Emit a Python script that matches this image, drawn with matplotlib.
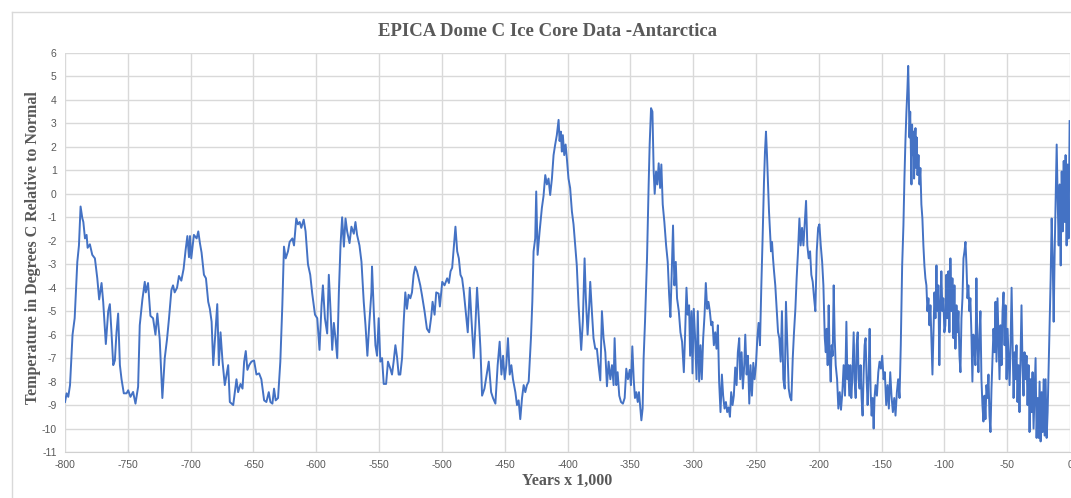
import matplotlib
matplotlib.use("Agg")
from matplotlib import pyplot as plt
from matplotlib.lines import Line2D
import numpy as np

plt.rcParams['axes.unicode_minus'] = False

# years (x 1,000) and temperature anomaly
years = [
    -800, -798.7, -797.4, -796, -794, -792.3, -790.2, -788.9, -787.6, -786.2, -785.4, -784.1,
    -782.8, -782, -780.2, -778.3, -776.2, -774.3, -772.8, -770.9, -769.6, -767.5, -765.6, -764.3,
    -763, -761.6, -760.3, -759, -757.7, -756.3, -755, -753.2, -751, -749.7, -747.9, -745.8,
    -743.9, -741.8, -740.5, -738.4, -736.5, -735.7, -733.9, -732, -729.9, -728, -726.5, -724.6,
    -722.5, -720.6, -718.8, -717.2, -715.3, -714, -712.7, -710.8, -709.3, -707.4, -705.6, -704,
    -702.6, -701.3, -700.5, -699.5, -697.4, -695.2, -693.9, -692.6, -691.3, -689.4, -687.8, -686,
    -684.7, -683.3, -682, -680.4, -678.8, -677.5, -676.2, -674.6, -672.8, -671.4, -670.1, -668.8,
    -666.1, -663.5, -662.2, -660.3, -658.7, -657.4, -656.1, -654.8, -653.4, -651.6, -649.5, -647.6,
    -645.5, -643.7, -641.5, -639.7, -637.8, -636.5, -634.9, -633.6, -632.3, -630.4, -628.6, -627,
    -625.7, -624.3, -622.5, -621.2, -619, -617.7, -615.9, -614.6, -613.2, -611.9, -610, -608.5,
    -606.6, -604.8, -603.2, -601, -599.2, -597.4, -595.8, -594.7, -593.1, -591.3, -590, -588.6,
    -587.3, -586, -584.7, -583.3, -582, -580.7, -579.4, -578, -576.7, -575.4, -573.5, -572,
    -570.1, -568.8, -567.5, -565.6, -564, -562.2, -560.8, -559.3, -557.7, -556.1, -555.6, -554.2,
    -552.9, -551.6, -550.3, -549, -547.6, -546.3, -544.4, -542.9, -541, -539.7, -538.4, -537,
    -535.7, -534.4, -533.1, -531.7, -530.4, -529.1, -527.8, -526.5, -525.1, -523.8, -522.5, -521.2,
    -519.8, -518.5, -517.2, -515.9, -513.8, -511.9, -510.1, -508.5, -507.4, -505.8, -504.5, -502.6,
    -501.6, -499.7, -497.9, -495.8, -494.4, -493.1, -491.8, -490.5, -489.2, -487.8, -486.5, -485.2,
    -483.9, -482.5, -481.2, -479.4, -477.8, -476.5, -474.6, -473.3, -472, -470.6, -469.3, -468,
    -466.1, -464, -462.7, -460.8, -459.3, -457.4, -455.6, -454, -452.6, -451.3, -450, -448.7,
    -447.4, -446, -444.7, -443.4, -441.5, -440.2, -438.9, -437.6, -436.2, -434.9, -433.6, -432.3,
    -430.9, -429.1, -428, -427, -425.7, -424.9, -423.8, -422.2, -420.4, -419.1, -417.7, -416.4,
    -415.1, -413.8, -412.4, -411.1, -409.8, -408.5, -407.1, -406.3, -405.3, -404.5, -403.7, -402.6,
    -401.5, -400.5, -399.2, -397.9, -396.5, -395.2, -393.9, -392.6, -391.2, -389.9, -389.1, -387.8,
    -386.4, -385.4, -384, -382.7, -381.9, -380.6, -379.3, -377.9, -376.6, -375.3, -373.9, -372.6,
    -371.3, -369.9, -368.6, -367.3, -365.9, -364.6, -363.3, -362.5, -361.2, -360.1, -358.8, -357.4,
    -355.9, -354.5, -353.2, -351.9, -350.5, -349.5, -348.4, -347.3, -346.3, -345.2, -344.1, -343.1,
    -342, -341.2, -340.2, -339.4, -338.3, -336.7, -335.4, -334.6, -333.5, -332.4, -331.4, -330.6,
    -329.5, -328.5, -327.4, -326.3, -325.3, -324.2, -322.9, -321.5, -320.2, -319.1, -318.1, -317,
    -316, -314.9, -313.8, -312.8, -311.4, -310.1, -308.8, -307.4, -306.4, -305.3, -304.3, -303.2,
    -302.4, -301.3, -300.5, -299.5, -298.4, -297.3, -296.3, -295.2, -294.1, -293.1, -292, -290.9,
    -289.9, -288.8, -287.8, -286.7, -285.6, -284.6, -283.5, -282.4, -281.4, -280.3, -279.3, -278.2,
    -277.1, -276.1, -275, -273.9, -272.9, -271.8, -270.7, -269.7, -268.6, -267.6, -266.5, -265.4,
    -264.4, -263.3, -262.5, -261.4, -260.4, -259.3, -258.5, -257.4, -256.4, -255.3, -254.3, -253.2,
    -252.1, -251.1, -250, -248.9, -247.9, -246.8, -245.7, -244.7, -243.6, -242.8, -242, -241.2,
    -240.4, -239.6, -238.8, -238, -237.2, -236.4, -235.6, -234.6, -233.5, -232.4, -231.4, -230.3,
    -229.3, -228.2, -227.1, -226.1, -225, -223.9, -222.9, -221.8, -220.7, -219.7, -218.6, -217.6,
    -216.5, -215.4, -214.4, -213.3, -212.2, -211.2, -210.1, -209.1, -208, -206.9, -205.9, -204.8,
    -203.7, -202.7, -201.6, -200.5, -199.5, -198.4, -197.3, -196.3, -195.2, -194.4, -193.7, -192.9,
    -192.1, -191.3, -190.5, -189.7, -188.9, -188.1, -187.3, -186.5, -185.4, -184.4, -183.3, -182.3,
    -181.2, -180.2, -179.1, -178, -177.2, -176.5, -175.7, -174.9, -174.1, -173.3, -172.2, -171.4,
    -170.6, -169.8, -169, -168.3, -167.5, -166.7, -165.9, -165.1, -164.3, -163.5, -162.7, -161.9,
    -161.1, -160.3, -159.5, -158.7, -157.9, -157.1, -156.3, -155.6, -154.8, -153.7, -152.6, -151.6,
    -150.5, -149.5, -148.4, -147.4, -146.3, -145.2, -144.2, -143.1, -142.1, -141, -139.9, -138.9,
    -137.8, -136.8, -135.7, -134.7, -133.6, -132.6, -131.8, -131, -130.2, -129.4, -128.8, -128.3,
    -127.8, -127.2, -126.7, -126.2, -125.7, -125.1, -124.6, -124.1, -123.5, -123, -122.5, -122,
    -121.4, -120.6, -119.8, -119.1, -118.3, -117.5, -116.7, -115.9, -115.1, -114.3, -113.5, -112.7,
    -111.9, -111.1, -110.3, -109.5, -108.7, -107.9, -107.1, -106.3, -105.6, -104.8, -104, -103.2,
    -102.4, -101.6, -100.8, -100, -99.2, -98.4, -97.6, -96.8, -96, -95.2, -94.4, -93.6,
    -92.8, -92, -91.2, -90.4, -89.6, -88.8, -88, -87.2, -86.4, -85.6, -84.8, -84,
    -83.2, -82.4, -81.6, -80.9, -80.1, -79.3, -78.5, -77.7, -76.9, -76.1, -75.3, -74.5,
    -73.7, -72.9, -72.1, -71.3, -70.5, -69.7, -68.9, -68.1, -67.3, -66.5, -65.7, -64.9,
    -64.1, -63.3, -62.5, -61.7, -60.9, -60.1, -59.3, -58.5, -57.7, -56.9, -56.1, -55.3,
    -54.5, -53.7, -52.9, -52.1, -51.3, -50.5, -49.7, -48.9, -48.1, -47.3, -46.5, -45.7,
    -44.9, -44.1, -43.4, -42.6, -41.8, -41, -40.2, -39.4, -38.6, -37.8, -37, -36.2,
    -35.4, -34.6, -33.8, -33, -32.2, -31.4, -30.6, -29.8, -29, -28.2, -27.4, -26.6,
    -25.8, -25, -24.2, -23.4, -22.6, -21.8, -21, -20.2, -19.4, -18.6, -17.8, -17,
    -16.2, -15.4, -14.6, -13.8, -13, -12.2, -11.4, -10.6, -9.8, -9, -8.2, -7.4,
    -6.6, -5.8, -5, -4.3, -3.5, -2.7, -1.9, -1.1, -0.3,
]
temps = [
    -8.87, -8.5, -8.65, -8.15, -6.0, -5.3, -2.9, -2.2, -0.54, -1.04, -1.2, -1.9,
    -1.75, -2.3, -2.15, -2.6, -2.75, -3.6, -4.5, -3.8, -4.6, -6.4, -5.0, -4.7,
    -5.9, -7.3, -7.1, -5.9, -5.1, -7.3, -7.9, -8.5, -8.5, -8.37, -8.65, -8.44,
    -8.94, -8.22, -5.6, -4.5, -3.75, -4.2, -3.8, -5.2, -5.3, -6.0, -5.1, -6.2,
    -8.7, -7.0, -6.2, -5.3, -4.1, -3.9, -4.2, -4.0, -3.5, -3.7, -3.2, -2.4,
    -1.8, -2.7, -1.8, -2.75, -1.75, -1.9, -1.6, -2.1, -2.5, -3.45, -3.6, -4.6,
    -4.9, -5.45, -7.3, -6.0, -4.7, -7.3, -5.9, -7.15, -8.15, -7.7, -7.3, -8.87,
    -9.0, -7.9, -8.45, -8.1, -8.3, -7.15, -6.7, -7.5, -7.3, -7.15, -7.1, -7.7,
    -7.65, -7.9, -8.8, -8.87, -8.45, -8.87, -8.94, -8.3, -8.8, -8.7, -7.15, -4.75,
    -2.25, -2.75, -2.45, -2.05, -1.9, -2.2, -1.05, -1.3, -1.2, -1.45, -1.1, -1.6,
    -3.0, -3.45, -4.25, -5.15, -5.3, -6.65, -4.75, -3.9, -5.3, -5.95, -3.45, -5.0,
    -6.65, -5.5, -6.15, -7.0, -4.2, -2.2, -1.0, -2.25, -1.05, -1.6, -2.1, -1.4,
    -1.7, -1.2, -1.75, -2.2, -2.9, -4.6, -5.6, -6.9, -5.45, -4.2, -3.1, -5.0,
    -6.45, -6.9, -5.3, -7.15, -7.0, -8.1, -8.1, -7.15, -7.45, -7.7, -7.15, -6.45,
    -6.95, -7.7, -7.7, -7.0, -5.45, -4.2, -4.9, -4.3, -4.45, -4.2, -3.45, -3.1,
    -3.3, -3.6, -3.9, -4.3, -5.0, -5.75, -5.9, -5.25, -4.6, -5.15, -4.2, -4.25,
    -4.8, -3.75, -3.9, -3.6, -3.8, -3.3, -3.15, -2.3, -1.4, -2.45, -2.75, -3.45,
    -3.6, -4.2, -4.9, -5.9, -4.0, -5.3, -7.0, -5.6, -4.0, -5.3, -6.6, -8.6,
    -8.3, -7.6, -7.15, -8.45, -8.7, -8.94, -7.3, -6.3, -7.7, -6.9, -7.9, -7.3,
    -6.15, -7.7, -7.3, -7.9, -8.45, -9.0, -8.8, -9.6, -8.7, -8.15, -8.45, -8.15,
    -8.0, -6.15, -4.6, -2.45, -1.9, 0.1, -2.6, -1.6, -0.6, -0.1, 0.8, 0.4,
    0.65, -0.05, 0.65, 1.65, 2.1, 2.5, 3.15, 2.25, 2.65, 1.8, 2.5, 1.65,
    2.1, 1.5, 0.65, 0.25, -0.75, -1.3, -2.2, -3.05, -4.75, -5.9, -6.65, -5.45,
    -2.75, -4.45, -6.0, -4.75, -3.75, -5.0, -6.15, -6.6, -6.6, -7.3, -7.95, -5.0,
    -6.15, -6.75, -8.2, -7.15, -7.9, -7.3, -8.15, -6.15, -8.15, -7.6, -8.6, -8.87,
    -8.94, -8.7, -7.45, -7.9, -7.5, -8.15, -6.5, -7.9, -8.7, -8.45, -8.87, -8.45,
    -9.15, -9.65, -9.15, -7.0, -5.45, -2.75, 0.4, 2.1, 3.65, 3.5, 0.95, 0.0,
    0.95, 0.4, 1.3, 0.25, 1.25, -0.45, -1.2, -2.2, -2.9, -4.3, -5.25, -3.3,
    -1.35, -3.9, -2.9, -4.45, -5.0, -5.9, -6.3, -7.6, -6.0, -4.0, -5.15, -4.75,
    -6.9, -5.0, -7.65, -4.9, -6.15, -7.9, -5.0, -8.0, -6.45, -7.9, -6.15, -5.15,
    -3.8, -4.9, -4.6, -5.0, -5.6, -5.45, -6.45, -5.9, -6.6, -5.6, -8.0, -9.3,
    -7.7, -8.6, -9.15, -8.87, -9.3, -9.1, -9.5, -8.45, -9.0, -8.6, -7.4, -8.15,
    -6.75, -6.15, -7.9, -6.75, -8.3, -7.3, -6.0, -7.7, -6.9, -8.94, -7.3, -8.6,
    -7.2, -7.9, -7.3, -6.15, -5.5, -6.45, -3.9, -1.9, 0.5, 1.8, 2.65, 1.65,
    0.4, -0.75, -1.6, -2.45, -2.05, -2.75, -3.3, -3.9, -4.9, -5.9, -6.15, -7.15,
    -5.0, -7.9, -8.3, -4.6, -6.45, -8.3, -8.65, -8.8, -7.0, -5.9, -4.9, -3.6,
    -2.45, -1.05, -2.2, -1.45, -2.2, -1.3, -0.3, -2.2, -2.75, -2.45, -3.45, -3.75,
    -4.45, -5.0, -2.45, -1.45, -1.3, -2.2, -2.9, -3.9, -6.15, -6.75, -5.75, -7.3,
    -4.75, -7.0, -8.0, -6.45, -6.9, -3.9, -6.15, -7.3, -7.9, -9.15, -8.45, -9.2,
    -8.45, -7.3, -8.6, -5.45, -7.9, -7.3, -8.6, -7.3, -8.7, -7.9, -5.9, -8.0,
    -8.7, -6.45, -5.9, -7.9, -8.3, -7.3, -8.7, -9.45, -7.7, -6.45, -6.15, -7.9,
    -9.0, -7.7, -5.75, -8.45, -9.45, -8.7, -10.0, -8.7, -8.15, -8.6, -7.6, -7.15,
    -7.45, -6.9, -7.9, -7.6, -9.0, -8.15, -9.15, -7.6, -8.6, -9.3, -8.7, -9.45,
    -8.45, -7.9, -8.7, -6.45, -3.05, -1.35, 0.65, 2.25, 3.5, 4.5, 5.45, 4.2,
    2.4, 3.5, 1.8, 0.4, 2.95, 1.65, 2.65, 0.65, 2.1, 2.8, 1.1, 2.4,
    0.8, 1.65, 0.4, 1.1, -0.45, -1.05, -2.2, -3.05, -3.6, -3.9, -5.0, -4.45,
    -5.6, -4.75, -6.15, -7.7, -5.9, -4.2, -5.3, -3.05, -5.0, -3.9, -7.3, -4.75,
    -3.3, -5.0, -4.45, -5.9, -5.6, -3.45, -5.3, -3.3, -5.9, -2.75, -5.0, -3.6,
    -6.15, -3.9, -6.6, -4.75, -5.9, -5.0, -6.9, -7.6, -5.3, -4.45, -2.75, -2.45,
    -2.05, -3.05, -4.45, -3.9, -5.0, -4.45, -5.9, -8.0, -6.0, -6.45, -7.3, -3.6,
    -6.45, -7.6, -6.0, -5.0, -7.9, -9.0, -9.7, -8.6, -9.6, -8.15, -8.7, -7.7,
    -9.45, -10.15, -8.3, -7.0, -5.75, -6.75, -4.6, -7.15, -4.45, -6.15, -7.9, -5.6,
    -7.3, -5.0, -4.2, -6.45, -4.75, -7.9, -5.75, -7.0, -8.15, -6.45, -4.0, -6.45,
    -8.7, -6.75, -7.9, -6.45, -8.87, -7.3, -9.3, -7.0, -4.75, -7.3, -8.6, -6.75,
    -7.9, -6.9, -9.0, -7.3, -10.15, -7.9, -9.3, -7.6, -10.0, -8.45, -7.0, -10.4,
    -8.7, -10.4, -8.0, -10.55, -8.45, -10.15, -7.9, -10.3, -7.9, -10.4, -9.3, -7.45,
    -5.6, -3.6, -1.05, -2.75, -5.45, -2.45, -0.05, 2.1, -0.3, -2.2, 0.4, -3.05,
    0.95, -1.6, 1.4, -1.2, 1.65, -2.2, 1.25, -1.9, 3.1,
]

x_ticks = np.arange(-800, 1, 50)
y_ticks = np.arange(-11, 7, 1)

grey = '#595959'
fig = plt.figure(figsize=(10.71, 4.98), dpi=100, facecolor='white')

# chart frame
fig.add_artist(Line2D([12 / 1071, 12 / 1071], [0, 1 - 12 / 498], transform=fig.transFigure, color='#d9d9d9', lw=1))
fig.add_artist(Line2D([12 / 1071, 1], [1 - 12 / 498, 1 - 12 / 498], transform=fig.transFigure, color='#d9d9d9', lw=1))

ax = fig.add_axes([65 / 1071, 1 - 452 / 498, 1005 / 1071, 399 / 498])
ax.plot(years, temps, color='#4472C4', lw=1.4, solid_joinstyle='round')

ax.set_xlim(-800, 0)
ax.set_ylim(-11, 6)
ax.set_xticks(x_ticks)
ax.set_yticks(y_ticks)
ax.grid(True, color='#d9d9d9', lw=1)
ax.set_axisbelow(True)
for s in ['top', 'right', 'left']:
    ax.spines[s].set_visible(False)
ax.spines['bottom'].set_color('#d0d0d0')
ax.tick_params(length=0, labelsize=7.5, colors=grey, pad=6)
for lab in ax.get_xticklabels() + ax.get_yticklabels():
    lab.set_family('Liberation Sans')

fig.text(548 / 1071, 1 - 32 / 498, 'EPICA Dome C Ice Core Data -Antarctica', ha='center', va='center',
         family='Liberation Serif', weight='bold', size=13.5, color=grey)
fig.text(567 / 1071, 1 - 481 / 498, 'Years x 1,000', ha='center', va='center',
         family='Liberation Serif', weight='bold', size=11.5, color=grey)
fig.text(33 / 1071, 1 - 248 / 498, 'Temperature in Degrees C Relative to Normal', ha='center', va='center',
         rotation=90, family='Liberation Serif', weight='bold', size=11.5, color=grey)

fig.savefig('out.png', dpi=100, facecolor='white')
